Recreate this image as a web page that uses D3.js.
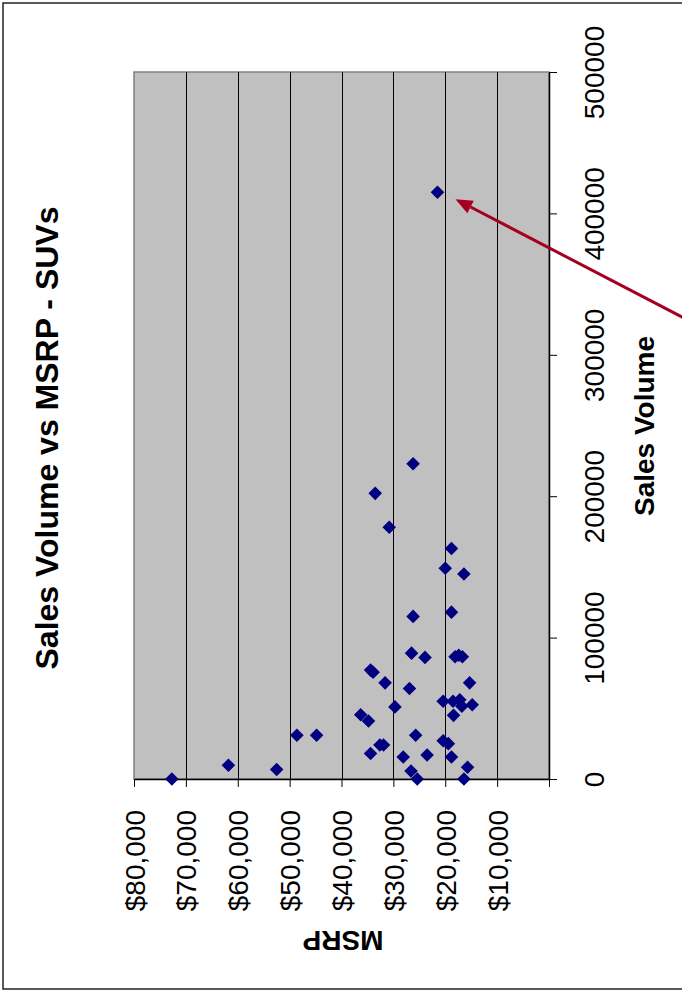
<!DOCTYPE html>
<html>
<head>
<meta charset="utf-8">
<script src="https://cdn.jsdelivr.net/npm/d3@7"></script>
<style>
  body { margin: 0; background: #fff; }
  text { font-family: "Liberation Sans", Arial, sans-serif; }
</style>
</head>
<body>
<div id="chart"></div>
<script>
// MSRP (dollars) and sales volume of each SUV
const msrp = [21500, 26200, 33500, 30800, 18800, 20000, 16400, 26200, 18800, 26500,
  23900, 18100, 17400, 16700, 34400, 33900, 31600, 15300, 26900, 29700,
  20400, 18500, 17200, 16800, 14800, 18400, 36300, 34800, 25700, 20400,
  19400, 34400, 32600, 31900, 28100, 23500, 18800, 15700, 26600, 25400,
  16400, 72700, 61800, 52500, 48600, 44800];
const sales = [415000, 223000, 202000, 178000, 163000, 149000, 145000, 115000, 118000, 89000,
  86000, 86500, 87500, 86500, 77000, 75500, 68000, 68000, 64000, 51000,
  55000, 55000, 56000, 51500, 52500, 45000, 45500, 41000, 31000, 27000,
  25000, 18000, 24000, 24000, 15500, 17000, 15500, 8300, 5700, 0,
  0, 0, 9700, 6700, 31000, 31000];

const msrpTicks = [0, 10000, 20000, 30000, 40000, 50000, 60000, 70000, 80000];
const salesTicks = [0, 100000, 200000, 300000, 400000, 500000];

const title = 'Sales Volume vs MSRP - SUVs';
const msrpTitle = 'MSRP';
const salesTitle = 'Sales Volume';

const width = 682, height = 999;
const svg = d3.select('#chart').append('svg')
    .attr('width', width)
    .attr('height', height);

// the whole chart is turned a quarter turn: MSRP runs right to left, sales bottom to top
const x = d3.scaleLinear().domain([0, 80000]).range([549, 134]);
const y = d3.scaleLinear().domain([0, 500000]).range([779, 72]);

// outer frame
svg.append('rect')
    .attr('x', 3).attr('y', 3)
    .attr('width', 720).attr('height', 986)
    .attr('fill', 'none')
    .attr('stroke', '#222')
    .attr('stroke-width', 1.5);

// plot area
svg.append('rect')
    .attr('x', x(80000)).attr('y', y(500000))
    .attr('width', x(0) - x(80000)).attr('height', y(0) - y(500000))
    .attr('fill', '#c0c0c0')
    .attr('stroke', '#808080')
    .attr('stroke-width', 1.5);

// grid lines
svg.append('g').selectAll('line')
    .data(msrpTicks.filter(d => d > 0 && d < 80000))
    .enter().append('line')
    .attr('x1', d => Math.round(x(d)) + 0.5)
    .attr('x2', d => Math.round(x(d)) + 0.5)
    .attr('y1', y(500000))
    .attr('y2', y(0))
    .attr('stroke', '#000')
    .attr('stroke-width', 1);

// MSRP axis
const xAxis = svg.append('g')
    .attr('transform', `translate(0,${y(0)})`)
    .call(d3.axisBottom(x)
        .tickValues(msrpTicks)
        .tickSize(8)
        .tickSizeOuter(0)
        .tickFormat(d => d === 0 ? '' : d3.format('$,.0f')(d)));
xAxis.select('.domain').attr('stroke', '#000').attr('stroke-width', 1.5);
xAxis.selectAll('line').attr('stroke', '#000');
xAxis.selectAll('text')
    .attr('transform', 'rotate(-90)')
    .attr('text-anchor', 'end')
    .attr('x', -31)
    .attr('y', 0)
    .attr('dy', '0.36em')
    .attr('font-size', 28)
    .attr('font-family', '"Liberation Sans", Arial, sans-serif')
    .attr('fill', '#000');

// sales axis
const yAxis = svg.append('g')
    .attr('transform', `translate(${x(0)},0)`)
    .call(d3.axisRight(y)
        .tickValues(salesTicks)
        .tickSize(8)
        .tickSizeOuter(0)
        .tickFormat(d3.format('d')));
yAxis.select('.domain').attr('stroke', '#000').attr('stroke-width', 1.5);
yAxis.selectAll('line').attr('stroke', '#000');
yAxis.selectAll('text')
    .attr('transform', 'rotate(-90)')
    .attr('text-anchor', 'middle')
    .attr('x', 0)
    .attr('y', 55)
    .attr('dy', 0)
    .attr('font-size', 28)
    .attr('font-family', '"Liberation Sans", Arial, sans-serif')
    .attr('fill', '#000');

// points
const points = msrp.map((m, i) => ({ msrp: m, sales: sales[i] }));
svg.append('g').selectAll('path')
    .data(points)
    .enter().append('path')
    .attr('d', d3.symbol().type(d3.symbolSquare).size(92))
    .attr('transform', d => `translate(${x(d.msrp)},${y(d.sales)}) rotate(45)`)
    .attr('fill', '#000080');

// titles
svg.append('text')
    .attr('transform', 'translate(58,438) rotate(-90)')
    .attr('text-anchor', 'middle')
    .attr('font-size', 32)
    .attr('font-weight', 'bold')
    .text(title);

svg.append('text')
    .attr('transform', 'translate(654,426) rotate(-90)')
    .attr('text-anchor', 'middle')
    .attr('font-size', 28)
    .attr('font-weight', 'bold')
    .text(salesTitle);

svg.append('text')
    .attr('transform', 'translate(343,931) rotate(180)')
    .attr('text-anchor', 'middle')
    .attr('font-size', 28)
    .attr('font-weight', 'bold')
    .text(msrpTitle);

// arrow pointing at the best seller
const best = points[d3.maxIndex(points, d => d.sales)];
const tip = [x(best.msrp) + 18, y(best.sales) + 7];
const tail = [tip[0] + 250, tip[1] + 130];
const len = Math.hypot(tail[0] - tip[0], tail[1] - tip[1]);
const u = [(tip[0] - tail[0]) / len, (tip[1] - tail[1]) / len];
const n = [-u[1], u[0]];
const base = [tip[0] - 17 * u[0], tip[1] - 17 * u[1]];
const arrowColor = '#a50021';

svg.append('line')
    .attr('x1', tail[0]).attr('y1', tail[1])
    .attr('x2', base[0]).attr('y2', base[1])
    .attr('stroke', arrowColor)
    .attr('stroke-width', 3);

svg.append('path')
    .attr('d', d3.line()([
        tip,
        [base[0] + 7 * n[0], base[1] + 7 * n[1]],
        [base[0] - 7 * n[0], base[1] - 7 * n[1]]
    ]) + 'Z')
    .attr('fill', arrowColor);
</script>
</body>
</html>
